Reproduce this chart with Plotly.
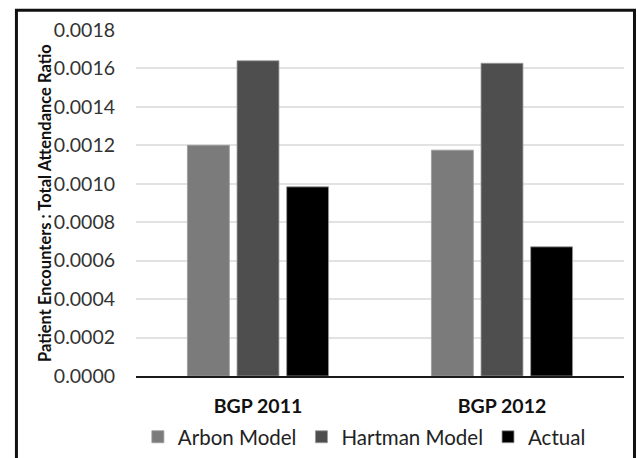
import plotly.graph_objects as go

# Patient encounters per total attendance, by event year
categories = ["BGP 2011", "BGP 2012"]
arbon_model = [0.00120, 0.001175]
hartman_model = [0.00164, 0.001627]
actual = [0.000984, 0.000672]

series_names = ["Arbon Model", "Hartman Model", "Actual"]
series_colors = ["#7b7b7b", "#4e4e4e", "#000000"]
series_values = [arbon_model, hartman_model, actual]

y_ticks = [0.0000, 0.0002, 0.0004, 0.0006, 0.0008, 0.0010, 0.0012, 0.0014, 0.0016, 0.0018]

FONT = "Lato"

fig = go.Figure()
for name, color, vals in zip(series_names, series_colors, series_values):
    fig.add_trace(go.Bar(
        x=categories, y=vals, name=name,
        marker=dict(color=color, line=dict(color="#9a9a9a", width=0.8)),
    ))

fig.update_layout(
    width=637, height=458,
    margin=dict(l=136, r=13, t=30, b=82, autoexpand=False),
    paper_bgcolor="white", plot_bgcolor="white",
    barmode="group", bargap=0.39, bargroupgap=0.155,
    font=dict(family=FONT, color="#222222"),
    showlegend=True,
    legend=dict(
        orientation="h", xref="container", yref="container",
        x=0.572, y=0.046, xanchor="center", yanchor="middle",
        font=dict(size=20.5, family=FONT, color="#222222"),
        itemwidth=30, tracegroupgap=0,
    ),
)

fig.update_yaxes(
    range=[0, 0.0018], tickvals=y_ticks,
    ticktext=[f"{v:.4f}" for v in y_ticks],
    tickfont=dict(size=19.5, family=FONT, color="#333333"),
    showgrid=True, gridcolor="#e2e2e2", gridwidth=1.5,
    zeroline=False, showline=False, ticks="", ticklabelstandoff=20,
    automargin=False,
)
fig.update_xaxes(
    tickfont=dict(size=19.5, family=FONT, color="#111111", weight="bold"),
    showline=True, linecolor="#1a1a1a", linewidth=2,
    ticks="", ticklabelstandoff=12, automargin=False,
)

# Axis title
fig.add_annotation(
    text="<b>Patient Encounters : Total Attendance Ratio</b>",
    xref="paper", yref="paper", x=-0.211, y=0.5,
    textangle=-90, showarrow=False,
    font=dict(size=16.5, family=FONT, color="#111111"),
)

# Outer chart frame
fig.add_shape(
    type="rect", xref="paper", yref="paper",
    x0=-0.245, x1=1.0215, y0=-0.3, y1=1.057,
    line=dict(color="#111111", width=3), fillcolor="rgba(0,0,0,0)",
    layer="above",
)

fig.write_html("out.html")
